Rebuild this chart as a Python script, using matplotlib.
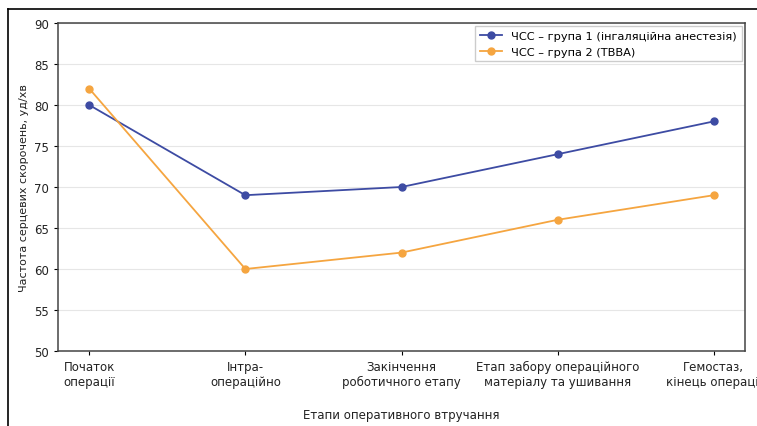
import matplotlib
matplotlib.use("Agg")
import matplotlib.pyplot as plt
from matplotlib.lines import Line2D

stages = ["Початок\nоперації", "Інтра-\nопераційно", "Закінчення\nроботичного етапу",
          "Етап забору операційного\nматеріалу та ушивання", "Гемостаз,\nкінець операції"]
group1 = [80, 69, 70, 74, 78]
group2 = [82, 60, 62, 66, 69]
label1 = "ЧСС – група 1 (інгаляційна анестезія)"
label2 = "ЧСС – група 2 (ТВВА)"
yticks = [50, 55, 60, 65, 70, 75, 80, 85, 90]

fig = plt.figure(figsize=(7.57, 4.27), dpi=100)
ax = fig.add_axes([58/757, 1-352/427, (745-58)/757, (352-24)/427])

x = list(range(len(stages)))
ax.plot(x, group1, color="#3d4ba3", marker="o", markersize=5, linewidth=1.3, label=label1)
ax.plot(x, group2, color="#f5a540", marker="o", markersize=5, linewidth=1.3, label=label2)

ax.set_ylim(50, 90)
ax.set_yticks(yticks)
ax.set_xticks(x)
ax.set_xticklabels(stages, fontsize=8.5, color="#222222")
ax.tick_params(axis="y", labelsize=8.5, length=3, labelcolor="#222222")
ax.tick_params(axis="x", length=3)
for s in ax.spines.values():
    s.set_color("#444444")
    s.set_linewidth(1.1)
ax.grid(axis="y", color="#e6e6e6", linewidth=0.8)
ax.set_axisbelow(True)
ax.set_ylabel("Частота серцевих скорочень, уд/хв", fontsize=8, color="#222222")
ax.set_xlabel("Етапи оперативного втручання", fontsize=8.5, labelpad=14, color="#222222")
ax.legend(loc="upper right", fontsize=8.2, framealpha=1, edgecolor="#cccccc", fancybox=False,
          borderaxespad=0.3)

# figure border
fx = 8/757
fy = 1 - 10/427
fig.add_artist(Line2D([fx, fx], [0, fy], transform=fig.transFigure, color="black", linewidth=1.2))
fig.add_artist(Line2D([fx, 1], [fy, fy], transform=fig.transFigure, color="black", linewidth=1.2))

fig.savefig("out.png", dpi=100)
